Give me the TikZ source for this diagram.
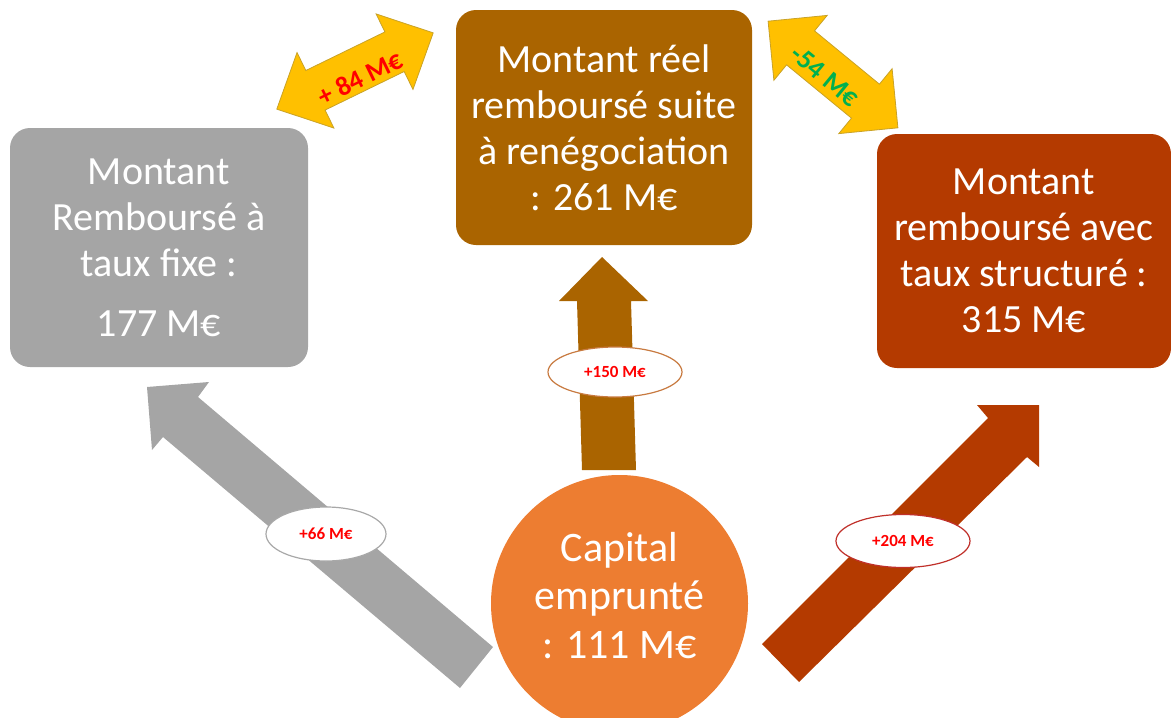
\documentclass[tikz,border=0pt]{standalone}
\usepackage{fontspec}
\setmainfont{Carlito}
\usetikzlibrary{shapes.geometric,calc}
\definecolor{grayarr}{HTML}{A5A5A5}
\definecolor{brownbox}{HTML}{AA6400}
\definecolor{redbox}{HTML}{B43A00}
\definecolor{orangec}{HTML}{ED7D31}
\definecolor{yell}{HTML}{FFC000}
\definecolor{yellline}{HTML}{C9A227}
\definecolor{txtred}{HTML}{FF0000}
\definecolor{txtgreen}{HTML}{00B050}
\definecolor{ebrown}{HTML}{C87A40}
\definecolor{egray}{HTML}{A8A8A8}
\definecolor{ered}{HTML}{C0302A}
\begin{document}
\begin{tikzpicture}[x=1pt,y=-1pt,
  bigbox/.style={rounded corners=20pt, inner sep=0pt, text=white, align=center,
    font=\fontsize{40}{46}\selectfont},
  yarrow/.style={fill=yell, draw=yellline, line width=0.8pt, line join=miter},
  yarrowtext/.style={font=\bfseries\fontsize{27}{30}\selectfont, inner sep=0pt},
  valoval/.style={ellipse, fill=white, line width=1.2pt, inner sep=0pt,
    text=txtred, font=\bfseries\fontsize{17}{19}\selectfont}
]
\useasboundingbox (0,0) rectangle (1171,718);

% big block arrows
\fill[grayarr] (493,647) -- (198,397) -- (209,382) -- (147,387) -- (152,450) -- (163,437) -- (460,688) -- cycle;
\fill[redbox] (762,644) -- (988,418) -- (977,405) -- (1039,405) -- (1039,467) -- (1027,457) -- (799,682) -- cycle;
\fill[brownbox] (582,470) -- (577,301) -- (559,301) -- (602,257) -- (648,301) -- (631,301) -- (636,470) -- cycle;

% boxes
\node[bigbox, fill=grayarr, minimum width=298pt, minimum height=239pt] (fixe) at (159,247.5)
  {Montant\\Remboursé à\\taux fixe :\\[14pt]177 M€};
\node[bigbox, fill=brownbox, minimum width=296pt, minimum height=235pt] (reel) at (604,127.5)
  {Montant réel\\remboursé suite\\à renégociation\\: 261 M€};
\node[bigbox, fill=redbox, minimum width=294pt, minimum height=234pt] (struct) at (1024,251)
  {Montant\\remboursé avec\\taux structuré :\\315 M€};

% circle
\node[circle, fill=orangec, minimum size=257pt, inner sep=0pt] (cap) at (619.5,603.5) {};
\node[align=center, text=white, font=\fontsize{42}{48.5}\selectfont, inner sep=0pt] (captext)
  at ($(cap.center)+(0,-8)$) {Capital\\emprunté\\: 111 M€};

% value ovals
\node[valoval, draw=ebrown, minimum width=134pt, minimum height=50pt] (e150) at (615,372) {+150 M€};
\node[valoval, draw=egray, minimum width=120pt, minimum height=54pt] (e66) at (326,534) {+66 M€};
\node[valoval, draw=ered, minimum width=134pt, minimum height=53pt] (e204) at (903,541) {+204 M€};

% yellow double arrows
\begin{scope}[shift={(355,71)}, rotate=26]
  \draw[yarrow] (87,0) -- (44,42) -- (44,22) -- (-44,22) -- (-44,42) -- (-87,0)
    -- (-44,-42) -- (-44,-22) -- (44,-22) -- (44,-42) -- cycle;
\end{scope}
\begin{scope}[shift={(833,74.5)}, rotate=-39.4]
  \draw[yarrow] (84,0) -- (42,42) -- (42,22) -- (-42,22) -- (-42,42) -- (-84,0)
    -- (-42,-42) -- (-42,-22) -- (42,-22) -- (42,-42) -- cycle;
\end{scope}
\node[yarrowtext, rotate=26, text=txtred] (t84) at (360,78) {+ 84 M€};
\node[yarrowtext, rotate=-39.4, text=txtgreen] (t54) at (825,76) {-54 M€};
\end{tikzpicture}
\end{document}
